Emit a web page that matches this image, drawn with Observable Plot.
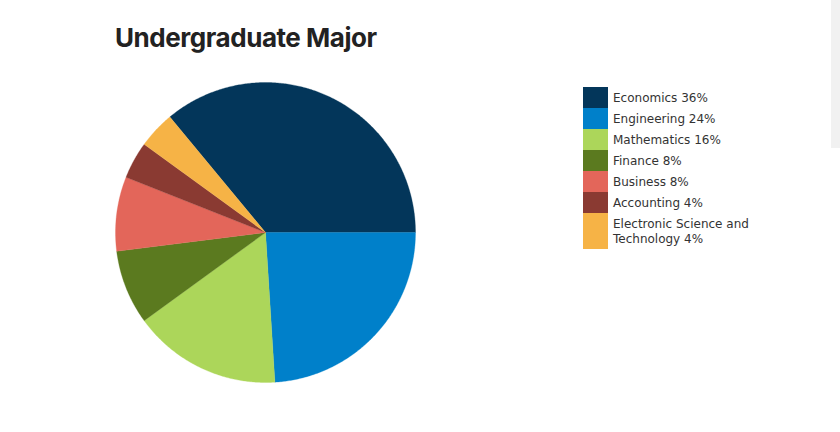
<!DOCTYPE html>
<html>
<head>
<meta charset="utf-8">
<script src="https://cdn.jsdelivr.net/npm/d3@7"></script>
<script src="https://cdn.jsdelivr.net/npm/@observablehq/plot@0.6"></script>
<style>
  html, body { margin: 0; padding: 0; background: #fff; }
  #wrap { position: relative; width: 840px; height: 432px; overflow: hidden; }
  #title { position: absolute; left: 115px; top: 22px; font-family: Inter, "Open Sans", sans-serif; font-weight: 700; font-size: 26px; color: #222; letter-spacing: -0.45px; }
  #chart { position: absolute; left: 0; top: 0; }
  #legend { position: absolute; left: 583px; top: 87px; font-family: "DejaVu Sans", Verdana, sans-serif; font-size: 12px; color: #333; }
  .row { display: flex; align-items: stretch; }
  .sw { width: 25px; flex: none; }
  .lab { padding: 4px 0 2px 5px; line-height: 15px; width: 145px; }
  #scroll { position: absolute; left: 831px; top: 0; width: 9px; height: 148px; background: #f1f1f1; }
</style>
</head>
<body>
<div id="wrap">
  <div id="chart"></div>
  <div id="title">Undergraduate Major</div>
  <div id="legend"></div>
  <div id="scroll"></div>
</div>
<script>
const majors = ["Economics", "Engineering", "Mathematics", "Finance", "Business", "Accounting", "Electronic Science and Technology"];
const counts = [9, 6, 4, 2, 2, 1, 1];
const colors = ["#03365a", "#0080ca", "#acd65a", "#5b7a1f", "#e3665a", "#8a3a32", "#f6b346"];

const total = d3.sum(counts);
const data = majors.map((m, i) => ({major: m, value: counts[i], pct: Math.round(100 * counts[i] / total)}));

// slice angles (clockwise from 12 o'clock); first slice ends at 3 o'clock
const pie = d3.pie().sort(null).value(d => d.value)
  .startAngle(Math.PI / 2 - 2 * Math.PI * counts[0] / total);
const arcs = pie(data);

const pts = [];
for (const a of arcs) {
  const n = Math.max(2, Math.ceil((a.endAngle - a.startAngle) / (Math.PI / 360)));
  pts.push({major: a.data.major, x: 0, y: 0});
  for (let k = 0; k <= n; k++) {
    const t = a.startAngle + (a.endAngle - a.startAngle) * k / n;
    pts.push({major: a.data.major, x: Math.sin(t), y: Math.cos(t)});
  }
  pts.push({major: a.data.major, x: 0, y: 0});
}

const plot = Plot.plot({
  width: 840,
  height: 432,
  marginLeft: 115,
  marginRight: 425,
  marginTop: 82,
  marginBottom: 50,
  x: {domain: [-1, 1], axis: null},
  y: {domain: [-1, 1], axis: null},
  color: {domain: majors, range: colors},
  marks: [
    Plot.line(pts, {x: "x", y: "y", z: "major", fill: "major", stroke: "major", strokeWidth: 0.3, curve: "linear-closed"})
  ]
});
document.getElementById("chart").appendChild(plot);

const leg = document.getElementById("legend");
data.forEach((d, i) => {
  const row = document.createElement("div");
  row.className = "row";
  const sw = document.createElement("div");
  sw.className = "sw";
  sw.style.background = colors[i];
  const lab = document.createElement("div");
  lab.className = "lab";
  lab.textContent = `${d.major} ${d.pct}%`;
  row.appendChild(sw);
  row.appendChild(lab);
  leg.appendChild(row);
});
</script>
</body>
</html>
